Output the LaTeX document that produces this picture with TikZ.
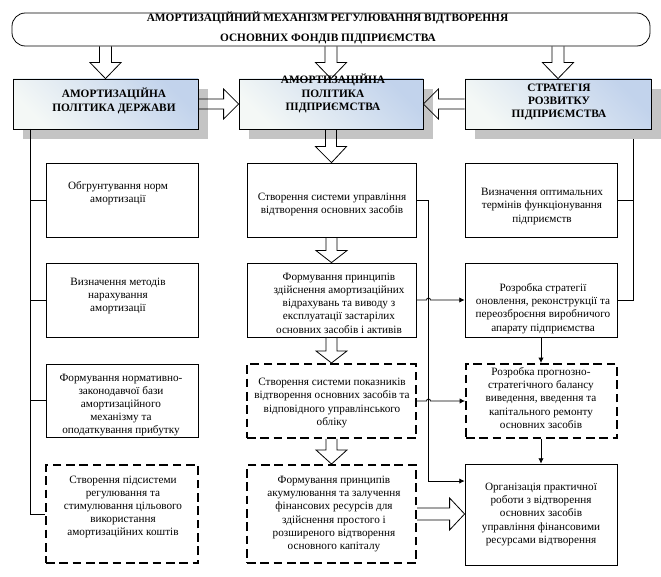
\documentclass[tikz,border=0pt]{standalone}
\usepackage{fontspec}
\setmainfont{Liberation Serif}
\usetikzlibrary{calc,shadows,arrows.meta}
\definecolor{hwhite}{HTML}{F4F8F6}
\definecolor{hblue}{HTML}{C2D3EC}
\definecolor{shadowgray}{HTML}{C4C4C4}
\tikzset{
  box/.style={draw, line width=0.6pt, fill=white, inner sep=0pt},
  dbox/.style={draw, line width=1.5pt, dash pattern=on 6.5pt off 3.5pt, fill=white, inner sep=0pt},
  txt/.style={align=center, font=\fontsize{8.4pt}{9.9pt}\selectfont, inner sep=0pt},
  htxt/.style={align=center, font=\bfseries\fontsize{8.5pt}{10pt}\selectfont, inner sep=0pt},
  hbox/.style={draw, line width=0.6pt, inner sep=0pt, left color=hwhite, right color=hblue, shading angle=135,
    drop shadow={shadow xshift=7.5pt, shadow yshift=-7.5pt, fill=shadowgray, opacity=1}},
  conn/.style={line width=0.6pt},
  arr/.style={conn, -{Latex[length=4pt,width=4pt]}},
  barrow/.style={draw, line width=0.6pt, line join=miter},
}
\newcommand\blkdown[5]{%
  \draw[barrow] let \p1=(#1), \p2=(#2) in
   (\x1-#3,\y1) -- (\x1-#3,\y2+#5) -- (\x1-#4,\y2+#5) -- (\x2,\y2) --
   (\x1+#4,\y2+#5) -- (\x1+#3,\y2+#5) -- (\x1+#3,\y1);}
\newcommand\blkright[5]{%
  \draw[barrow] let \p1=(#1), \p2=(#2) in
   (\x1,\y1+#3) -- (\x2-#5,\y1+#3) -- (\x2-#5,\y1+#4) -- (\x2,\y1) --
   (\x2-#5,\y1-#4) -- (\x2-#5,\y1-#3) -- (\x1,\y1-#3);}
\newcommand\blkleft[5]{%
  \draw[barrow] let \p1=(#1), \p2=(#2) in
   (\x1,\y1+#3) -- (\x2+#5,\y1+#3) -- (\x2+#5,\y1+#4) -- (\x2,\y1) --
   (\x2+#5,\y1-#4) -- (\x2+#5,\y1-#3) -- (\x1,\y1-#3);}
\begin{document}
\begin{tikzpicture}[x=0.75pt, y=-0.75pt]
\useasboundingbox (0,0) rectangle (661,577);

% title
\node[draw, line width=0.6pt, rounded corners=10pt, minimum width=478.5pt, minimum height=24.75pt, inner sep=0pt] (title) at (331,29.5) {};
\node[htxt] (title1) at (327.5,17.5) {АМОРТИЗАЦІЙНИЙ МЕХАНІЗМ РЕГУЛЮВАННЯ ВІДТВОРЕННЯ};
\node[htxt] (title2) at (328,38.5) {ОСНОВНИХ ФОНДІВ ПІДПРИЄМСТВА};

% header boxes
\node[hbox, minimum width=138.75pt, minimum height=37.5pt] (hL) at (105.5,104) {};
\node[hbox, minimum width=138pt, minimum height=37.5pt] (hC) at (331,104) {};
\node[hbox, minimum width=139.5pt, minimum height=37.5pt] (hR) at (558,104) {};
\node[htxt] (hLt) at (114,101) {АМОРТИЗАЦІЙНА\\ПОЛІТИКА ДЕРЖАВИ};
\node[htxt] (hCt) at (333,93.5) {АМОРТИЗАЦІЙНА\\ПОЛІТИКА\\ПІДПРИЄМСТВА};
\node[htxt] (hRt) at (559,102) {СТРАТЕГІЯ\\РОЗВИТКУ\\ПІДПРИЄМСТВА};

% left column
\node[box, minimum width=114pt, minimum height=55.5pt] (L1) at (122,200) {};
\node[box, minimum width=114pt, minimum height=55.5pt] (L2) at (122,300) {};
\node[box, minimum width=114pt, minimum height=54.75pt] (L3) at (122,400.5) {};
\node[dbox, minimum width=114pt, minimum height=73.5pt] (L4) at (122,514) {};
\node[txt] (L1t) at (118,193.5) {Обгрунтування норм\\амортизації};
\node[txt] (L2t) at (118,296) {Визначення методів\\нарахування\\амортизації};
\node[txt] (L3t) at (121,405) {Формування нормативно-\\законодавчої бази\\амортизаційного\\механізму та\\оподаткування прибутку};
\node[txt] (L4t) at (123,507) {Створення підсистеми\\регулювання та\\стимулювання цільового\\використання\\амортизаційних коштів};

% center column
\node[box, minimum width=126.75pt, minimum height=55.5pt] (C1) at (331.5,200) {};
\node[box, minimum width=126.75pt, minimum height=55.5pt] (C2) at (331.5,300) {};
\node[dbox, minimum width=126.75pt, minimum height=55.5pt] (C3) at (331.5,401) {};
\node[dbox, minimum width=126.75pt, minimum height=73.5pt] (C4) at (331.5,514) {};
\node[txt] (C1t) at (332,204.5) {Створення системи управління\\відтворення основних засобів};
\node[txt] (C2t) at (339,303) {Формування принципів\\здійснення амортизаційних\\відрахувань та виводу з\\експлуатації застарілих\\основних засобів і активів};
\node[txt] (C3t) at (332,403) {Створення системи показників\\відтворення основних засобів та\\відповідного управлінського\\обліку};
\node[txt] (C4t) at (334,514) {Формування принципів\\акумулювання та залучення\\фінансових ресурсів для\\здійснення простого і\\розширеного відтворення\\основного капіталу};

% right column
\node[box, minimum width=114pt, minimum height=55.5pt] (R1) at (541,200) {};
\node[box, minimum width=114pt, minimum height=55.5pt] (R2) at (541,300) {};
\node[dbox, minimum width=113.25pt, minimum height=55.5pt] (R3) at (541.5,401) {};
\node[box, minimum width=114pt, minimum height=75.75pt] (R4) at (541,514.5) {};
\node[txt] (R1t) at (542,206.5) {Визначення оптимальних\\термінів функціонування\\підприємств};
\node[txt] (R2t) at (543,308.5) {Розробка стратегії\\оновлення, реконструкції та\\переозброєння виробничого\\апарату підприємства};
\node[txt] (R3t) at (541,398) {Розробка прогнозно-\\стратегічного балансу\\виведення, введення та\\капітального ремонту\\основних засобів};
\node[txt] (R4t) at (541,514.5) {Організація практичної\\роботи з відтворення\\основних засобів\\управління фінансовими\\ресурсами відтворення};

% block arrows
\blkdown{title.south -| hL.north}{hL.north}{4.5pt}{11.6pt}{12pt}
\blkdown{title.south -| hC.north}{hC.north}{4.5pt}{11.6pt}{12pt}
\blkdown{title.south -| hR.north}{hR.north}{4.5pt}{11.6pt}{12pt}
\blkright{hL.east}{hC.west}{3.75pt}{11.25pt}{11.25pt}
\blkleft{hR.west}{hC.east}{3.75pt}{11.25pt}{11.25pt}
\blkdown{hC.south}{C1.north}{4.1pt}{11.6pt}{12pt}
\blkdown{C1.south}{C2.north}{4.1pt}{11.6pt}{9pt}
\blkdown{C2.south}{C3.north}{4.1pt}{11.6pt}{9pt}
\blkdown{C3.south}{C4.north}{4.1pt}{11.6pt}{10.5pt}
\blkright{C4.east}{R4.west}{4.5pt}{12pt}{11.25pt}

% left connectors
\coordinate (lTop) at (30,129);
\draw[conn] (lTop) -- (lTop |- L4.west) -- (L4.west);
\draw[conn] (L1.west -| lTop) -- (L1.west);
\draw[conn] (L2.west -| lTop) -- (L2.west);
\draw[conn] (L3.west -| lTop) -- (L3.west);

% right connectors
\coordinate (rTop) at (633,139);
\draw[conn] (rTop) |- (R2.east);
\draw[conn] (R1.east) -- (R1.east -| rTop);

% center to right connectors
\coordinate (cj) at (428.5,201);
\coordinate (R4in) at ([yshift=25.1pt]R4.west);
\draw[arr] (C1.east) -- (C1.east -| cj) -- (cj |- R4in) -- (R4in);
\draw[arr] (C2.east) -- ($(C2.east -| cj)+(-1.5pt,0)$) arc[start angle=180, end angle=0, radius=1.5pt] -- (R2.west);
\draw[arr] (C3.east) -- ($(C3.east -| cj)+(-1.5pt,0)$) arc[start angle=180, end angle=0, radius=1.5pt] -- (R3.west);
\draw[arr] (R2.south) -- (R2.south |- R3.north);
\draw[arr] (R3.south -| R2.south) -- (R2.south |- R4.north);
\end{tikzpicture}
\end{document}
